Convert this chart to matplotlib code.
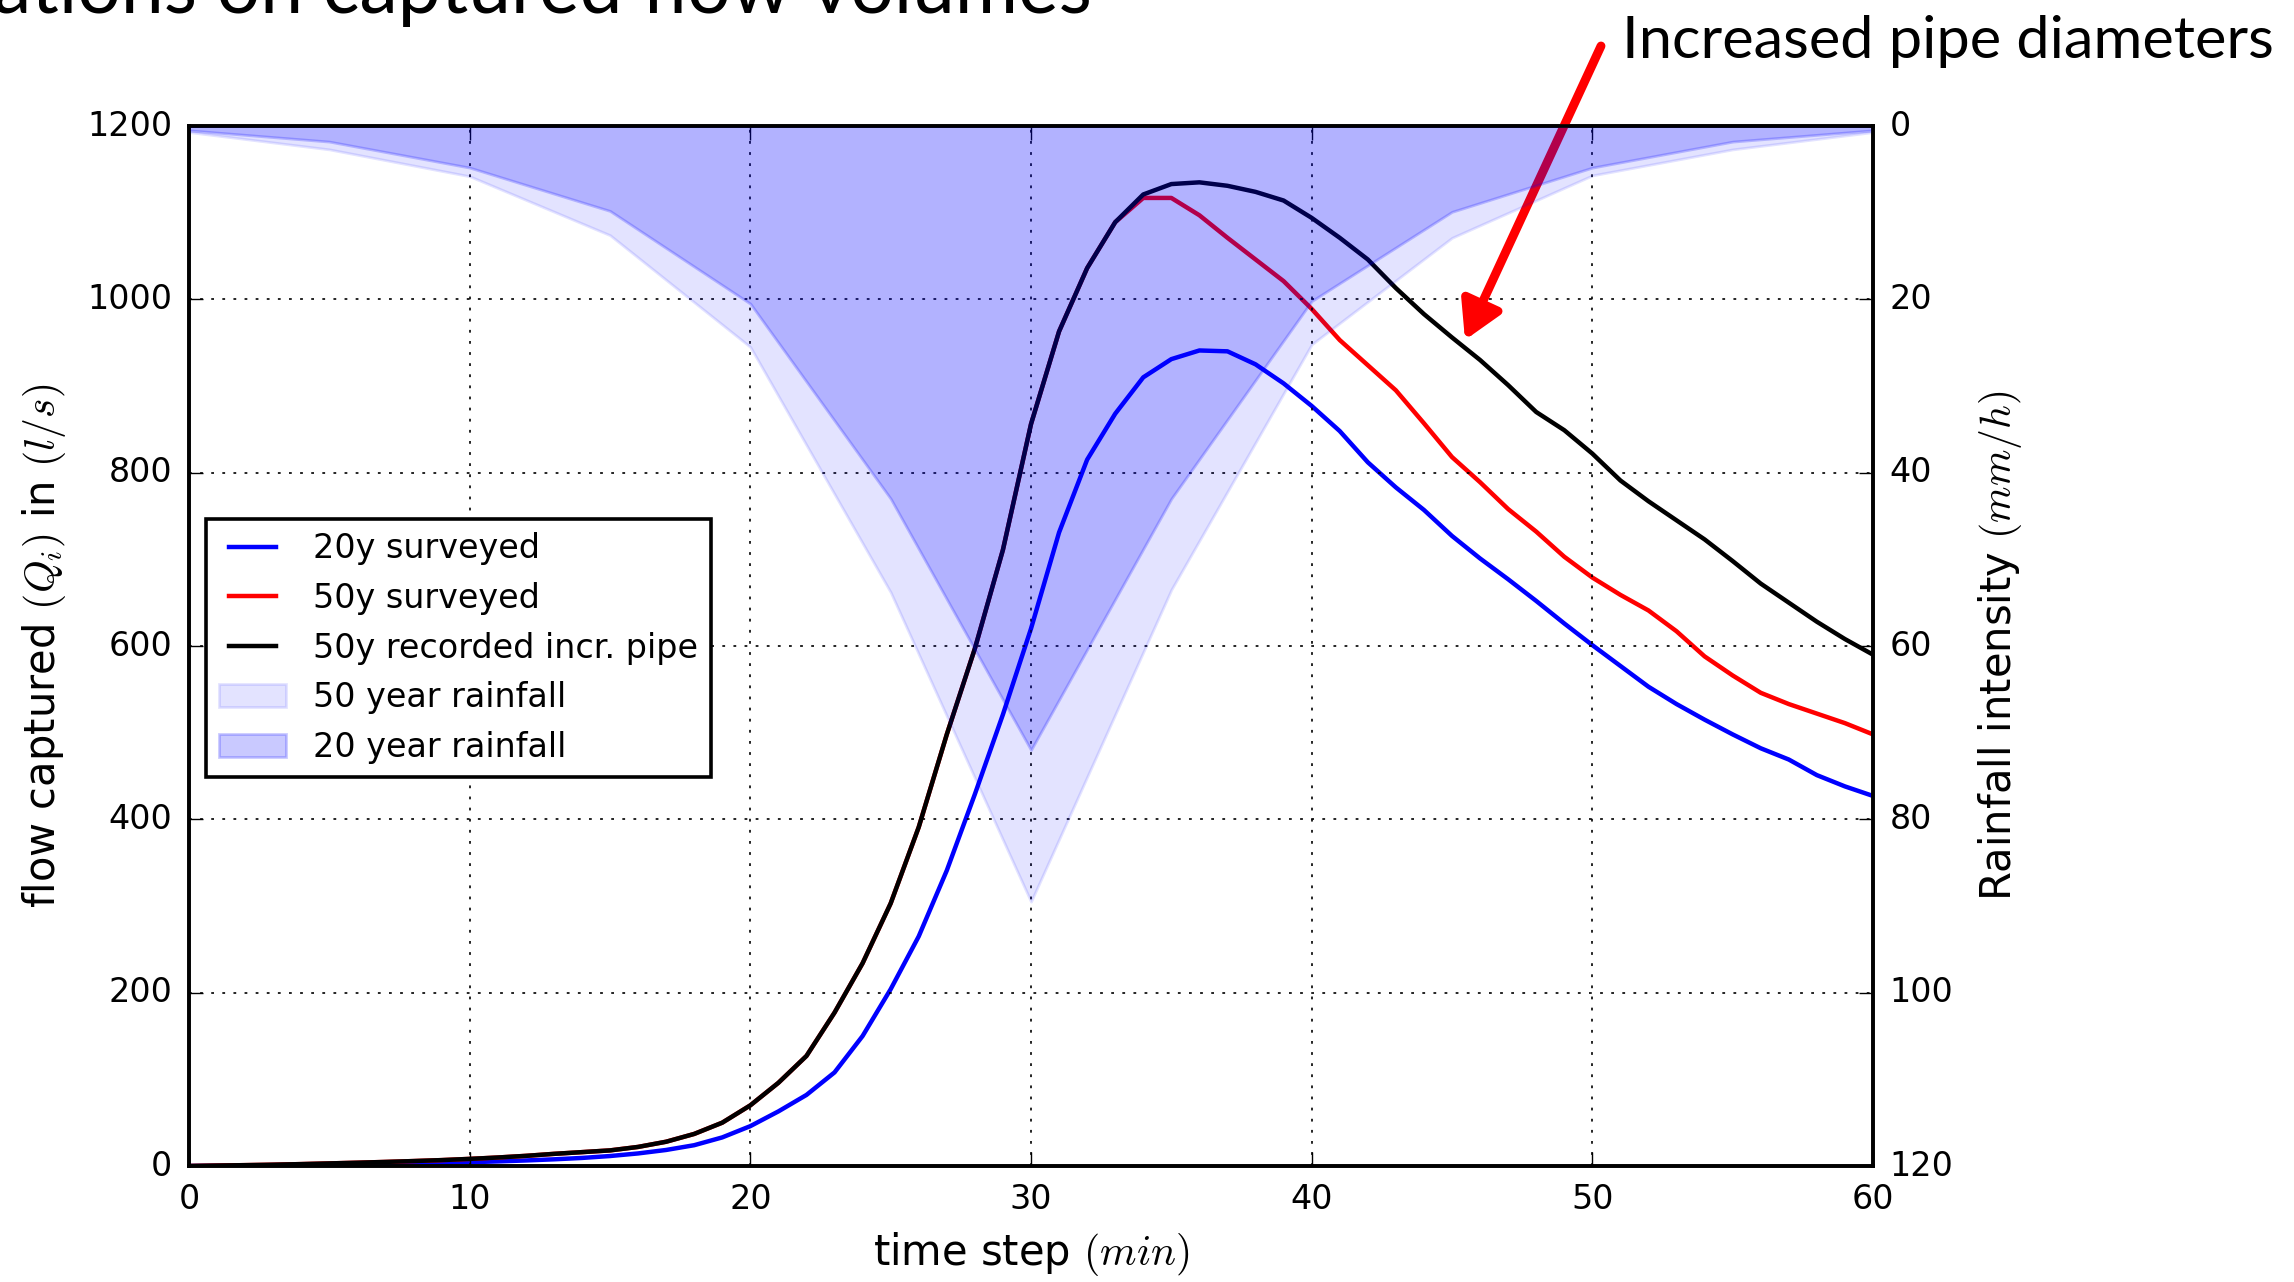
import matplotlib
matplotlib.use("Agg")
import matplotlib.pyplot as plt

# ---------------- data ----------------
minutes = list(range(0, 61))

flow_20y_surveyed = [0, 0.3, 0.6, 1, 1.3, 1.7, 2.1, 2.6, 3.1, 3.7, 4.4, 5.3, 6.4, 7.7, 9.3,
                     11.5, 14.5, 18.5, 24, 33, 46, 63, 82, 108, 150, 204, 265, 341, 429, 521,
                     620, 731, 815, 868, 910, 931, 941, 940, 925, 903, 877, 848, 812, 783, 757,
                     727, 701, 677, 652, 626, 601, 577, 553, 533, 515, 498, 482, 469, 451, 438, 427]

flow_50y_surveyed = [0, 0.5, 1, 1.5, 2.2, 3, 3.8, 4.7, 5.7, 6.8, 8.2, 9.8, 11.7, 14, 16,
                     18, 22, 28, 37, 50, 70, 96, 127, 177, 234, 303, 391, 498, 597, 711,
                     856, 963, 1036, 1089, 1117, 1117, 1097, 1071, 1046, 1021, 989, 953, 924, 895, 857,
                     818, 789, 758, 732, 703, 679, 659, 641, 617, 588, 566, 546, 533, 522, 511, 498]

flow_50y_recorded = [0, 0.5, 1, 1.5, 2.2, 3, 3.8, 4.7, 5.7, 6.8, 8.2, 9.8, 11.7, 14, 16,
                     18, 22, 28, 37, 50, 70, 96, 127, 177, 234, 303, 391, 498, 597, 711,
                     856, 963, 1036, 1089, 1121, 1133, 1135, 1131, 1124, 1114, 1094, 1071, 1046, 1013, 983,
                     956, 930, 901, 870, 849, 822, 791, 767, 745, 723, 698, 672, 650, 628, 608, 590]

rain_minutes = [0, 5, 10, 15, 20, 25, 30, 35, 40, 45, 50, 55, 60]
rain_50y = [0.7, 2.7, 5.8, 12.6, 25.5, 53.8, 89.5, 53.5, 25.2, 12.9, 5.7, 2.7, 0.7]
rain_20y = [0.5, 1.8, 4.8, 9.8, 20.5, 43.0, 72.0, 43.0, 20.2, 9.9, 4.8, 1.8, 0.5]

flow_ticks = [0, 200, 400, 600, 800, 1000, 1200]
rain_ticks = [0, 20, 40, 60, 80, 100, 120]
time_ticks = [0, 10, 20, 30, 40, 50, 60]

labels = ["20y surveyed", "50y surveyed", "50y recorded incr. pipe",
          "50 year rainfall", "20 year rainfall"]

# ---------------- style ----------------
plt.style.use("classic")
plt.rcParams["figure.facecolor"] = "white"
plt.rcParams["savefig.facecolor"] = "white"
plt.rcParams["font.size"] = 12
plt.rcParams["axes.linewidth"] = 1.3
plt.rcParams["xtick.major.size"] = 5
plt.rcParams["ytick.major.size"] = 5
plt.rcParams["xtick.major.pad"] = 6
plt.rcParams["ytick.major.pad"] = 6

W, H, DPI = 2294, 1282, 200
fig = plt.figure(figsize=(W / DPI, H / DPI), dpi=DPI)
ax1 = fig.add_axes([189 / W, 1 - 1166 / H, (1873 - 189) / W, (1166 - 126) / H])

l1, = ax1.plot(minutes, flow_20y_surveyed, color="blue", lw=1.6)
l2, = ax1.plot(minutes, flow_50y_surveyed, color="red", lw=1.6)
l3, = ax1.plot(minutes, flow_50y_recorded, color="black", lw=1.6)
ax1.set_xlim(0, 60)
ax1.set_ylim(0, 1200)
ax1.set_xticks(time_ticks)
ax1.set_yticks(flow_ticks)
ax1.grid(True, color="black", linestyle=":", linewidth=0.6)
ax1.set_xlabel("time step $(min)$", fontsize=15, labelpad=5)
ax1.set_ylabel("flow captured $(Q_i)$ in $(l/s)$", fontsize=15, labelpad=7)
ax1.tick_params(labelsize=12)

ax2 = ax1.twinx()
f50 = ax2.fill_between(rain_minutes, 0, rain_50y, facecolor="blue", edgecolor="blue",
                       alpha=0.11, lw=1.0)
f20 = ax2.fill_between(rain_minutes, 0, rain_20y, facecolor="blue", edgecolor="blue",
                       alpha=0.21, lw=1.0)
ax2.set_ylim(120, 0)
ax2.set_yticks(rain_ticks)
ax2.set_xlim(0, 60)
ax2.set_ylabel("Rainfall intensity $(mm/h)$", fontsize=15, labelpad=8)
ax2.tick_params(labelsize=12)

leg = ax2.legend([l1, l2, l3, f50, f20], labels, loc="upper left",
                 bbox_to_anchor=(0.0101, 0.622), borderaxespad=0, fontsize=12,
                 fancybox=False, frameon=True, handlelength=2.0, labelspacing=0.5,
                 handletextpad=0.8, borderpad=0.4)
leg.get_frame().set_edgecolor("black")
leg.get_frame().set_linewidth(1.3)

# ---------------- annotations ----------------
renderer = fig.canvas.get_renderer()

def fit_text(txt, target_w):
    bb = txt.get_window_extent(renderer)
    txt.set_fontsize(txt.get_fontsize() * target_w / bb.width)

ann_font = ["Lato", "DejaVu Sans"]
t_ann = fig.text(1622, H - 58, "Increased pipe diameters", transform=None,
                 fontsize=20, family=ann_font, ha="left", va="baseline", color="black")
fit_text(t_ann, 651)

t_title = fig.text(1092, H - 13, "ations on captured flow volumes", transform=None,
                   fontsize=30, family=ann_font, ha="right", va="baseline", color="black")
fit_text(t_title, 1100)

ax1.annotate("", xy=(1465, H - 340), xycoords="figure pixels",
             xytext=(1601, H - 46), textcoords="figure pixels",
             arrowprops=dict(arrowstyle="-|>,head_length=0.4,head_width=0.23",
                             mutation_scale=28, color="red", lw=3.2,
                             shrinkA=0, shrinkB=0),
             annotation_clip=False)

fig.savefig("out.png", dpi=DPI)
